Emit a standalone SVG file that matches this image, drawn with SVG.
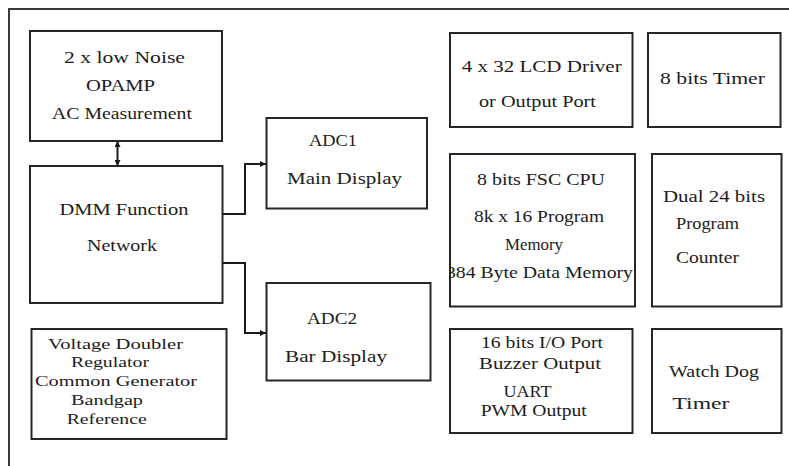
<svg xmlns="http://www.w3.org/2000/svg" width="789" height="466" viewBox="0 0 789 466">
<style>
.box{fill:#fff;stroke:#262626;stroke-width:2}
.t{font-family:"Liberation Serif","DejaVu Serif","Times New Roman",serif;font-size:17px;fill:#1c1c1c;text-anchor:middle}
.s{font-size:14.5px}
.c{fill:none;stroke:#1a1a1a;stroke-width:2}
.frame{fill:none;stroke:#3a3a3a;stroke-width:2}
</style>
<defs>
<marker id="ah" viewBox="0 0 6 6" markerWidth="6" markerHeight="6" refX="6" refY="3" orient="auto-start-reverse" markerUnits="userSpaceOnUse">
<path d="M0,0 L6,3 L0,6 z" fill="#1a1a1a"/>
</marker>
<clipPath id="cpuclip"><rect x="449" y="154" width="186" height="152"/></clipPath>
</defs>
<rect width="789" height="466" fill="#fff"/>
<path class="frame" d="M9,466 V9 H789"/>

<g id="connectors">
<line class="c" x1="117.5" y1="141" x2="117.5" y2="166" marker-start="url(#ah)" marker-end="url(#ah)"/>
<path class="c" d="M222.5,214 H245 V164 H266" marker-end="url(#ah)"/>
<path class="c" d="M222.5,263 H245 V333 H266" marker-end="url(#ah)"/>
</g>

<g id="opamp">
<rect class="box" x="30" y="31" width="192" height="110"/>
<text class="t" x="124.5" y="63" textLength="121" lengthAdjust="spacingAndGlyphs">2 x  low Noise</text>
<text class="t" x="120.5" y="91" textLength="69" lengthAdjust="spacingAndGlyphs">OPAMP</text>
<text class="t" x="122" y="119" textLength="140" lengthAdjust="spacingAndGlyphs">AC Measurement</text>
</g>

<g id="dmm">
<rect class="box" x="30" y="166" width="192.5" height="137"/>
<text class="t" x="124" y="215" textLength="129" lengthAdjust="spacingAndGlyphs">DMM  Function</text>
<text class="t" x="122" y="251" textLength="70" lengthAdjust="spacingAndGlyphs">Network</text>
</g>

<g id="adc1">
<rect class="box" x="266.5" y="118" width="160.5" height="90.5"/>
<text class="t" x="333" y="146" textLength="48" lengthAdjust="spacingAndGlyphs">ADC1</text>
<text class="t" x="344.5" y="184" textLength="115" lengthAdjust="spacingAndGlyphs">Main  Display</text>
</g>

<g id="adc2">
<rect class="box" x="266.5" y="283" width="164" height="97.5"/>
<text class="t" x="332" y="324" textLength="50" lengthAdjust="spacingAndGlyphs">ADC2</text>
<text class="t" x="336" y="362" textLength="102" lengthAdjust="spacingAndGlyphs">Bar  Display</text>
</g>

<g id="voltage">
<rect class="box" x="31.5" y="329" width="195" height="110"/>
<text class="t s" x="115.5" y="349" textLength="135" lengthAdjust="spacingAndGlyphs">Voltage  Doubler</text>
<text class="t s" x="110" y="367" textLength="78" lengthAdjust="spacingAndGlyphs">Regulator</text>
<text class="t s" x="116" y="386" textLength="162" lengthAdjust="spacingAndGlyphs">Common  Generator</text>
<text class="t s" x="107" y="405" textLength="72" lengthAdjust="spacingAndGlyphs">Bandgap</text>
<text class="t s" x="106.7" y="424" textLength="80" lengthAdjust="spacingAndGlyphs">Reference</text>
</g>

<g id="lcd">
<rect class="box" x="450" y="33" width="182.5" height="94"/>
<text class="t" x="541.7" y="72" textLength="160" lengthAdjust="spacingAndGlyphs">4 x 32  LCD  Driver</text>
<text class="t" x="537.5" y="107" textLength="117" lengthAdjust="spacingAndGlyphs">or Output Port</text>
</g>

<g id="timer8">
<rect class="box" x="648" y="33" width="132.5" height="94"/>
<text class="t" x="712.5" y="84" textLength="105" lengthAdjust="spacingAndGlyphs">8  bits  Timer</text>
</g>

<g id="cpu">
<rect class="box" x="450" y="154" width="185" height="152.5"/>
<text class="t" x="541" y="185" textLength="128" lengthAdjust="spacingAndGlyphs">8 bits FSC CPU</text>
<text class="t" x="539" y="222" textLength="130" lengthAdjust="spacingAndGlyphs">8k x  16 Program</text>
<text class="t" x="534" y="250" textLength="58" lengthAdjust="spacingAndGlyphs">Memory</text>
<text class="t" x="539.5" y="278" textLength="187" lengthAdjust="spacingAndGlyphs" clip-path="url(#cpuclip)">384 Byte Data Memory</text>
</g>

<g id="counter">
<rect class="box" x="652" y="154" width="129.5" height="152.5"/>
<text class="t" x="714" y="202" textLength="102" lengthAdjust="spacingAndGlyphs">Dual  24 bits</text>
<text class="t" x="707.5" y="229" textLength="63" lengthAdjust="spacingAndGlyphs">Program</text>
<text class="t" x="707.5" y="263" textLength="63" lengthAdjust="spacingAndGlyphs">Counter</text>
</g>

<g id="io">
<rect class="box" x="450" y="329" width="182.5" height="104"/>
<text class="t" x="542" y="348" textLength="122" lengthAdjust="spacingAndGlyphs">16 bits I/O Port</text>
<text class="t" x="540" y="369" textLength="122" lengthAdjust="spacingAndGlyphs">Buzzer  Output</text>
<text class="t" x="527.5" y="397" textLength="48" lengthAdjust="spacingAndGlyphs">UART</text>
<text class="t" x="533.7" y="416" textLength="106" lengthAdjust="spacingAndGlyphs">PWM  Output</text>
</g>

<g id="watchdog">
<rect class="box" x="652" y="329" width="129.5" height="104"/>
<text class="t" x="714" y="377" textLength="90" lengthAdjust="spacingAndGlyphs">Watch Dog</text>
<text class="t" x="701" y="409" textLength="57" lengthAdjust="spacingAndGlyphs">Timer</text>
</g>
</svg>
